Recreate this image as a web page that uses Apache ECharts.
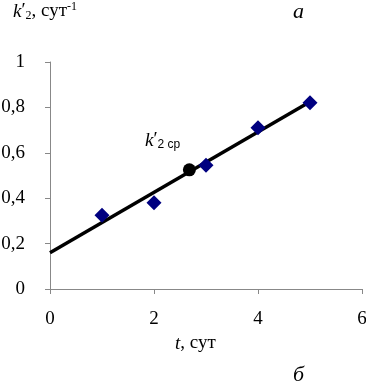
<!DOCTYPE html>
<html>
<head>
<meta charset="utf-8">
<script src="https://cdn.jsdelivr.net/npm/echarts@6/dist/echarts.min.js"></script>
<style>
  html, body { margin: 0; padding: 0; background: #fff; }
  #chart { width: 366px; height: 390px; }
</style>
</head>
<body>
<div id="chart"></div>
<script>
// измеренные значения
var days = [1, 2, 3, 4, 5];
var kValues = [0.325, 0.38, 0.545, 0.71, 0.82];
// среднее значение
var kMean = [2.68, 0.525];
// линия тренда
var trendX = [0, 5];
var trendY = [0.16, 0.825];

var serif = '"Liberation Serif", "DejaVu Serif", serif';

var myChart = echarts.init(document.getElementById('chart'));

var option = {
  animation: false,
  grid: { left: 50, right: 4, top: 62, bottom: 101, outerBoundsMode: 'none', containLabel: false },
  xAxis: {
    type: 'value', min: 0, max: 6, interval: 2,
    axisLine: { lineStyle: { color: '#888', width: 1 } },
    axisTick: { inside: false, length: 5, lineStyle: { color: '#888' } },
    axisLabel: { color: '#000', fontFamily: serif, fontSize: 19, margin: 21 },
    splitLine: { show: false }
  },
  yAxis: {
    type: 'value', min: 0, max: 1, interval: 0.2,
    axisLine: { show: true, lineStyle: { color: '#888', width: 1 } },
    axisTick: { show: true, length: 5, lineStyle: { color: '#888' } },
    axisLabel: {
      color: '#000', fontFamily: serif, fontSize: 19, margin: 25,
      formatter: function (v) { return String(Math.round(v * 10) / 10).replace('.', ','); }
    },
    splitLine: { show: false }
  },
  series: [
    {
      type: 'line',
      data: trendX.map(function (x, i) { return [x, trendY[i]]; }),
      symbol: 'none',
      lineStyle: { color: '#000', width: 3.5 },
      z: 2
    },
    {
      type: 'scatter',
      data: days.map(function (d, i) { return [d, kValues[i]]; }),
      symbol: 'diamond',
      symbolSize: [15, 15],
      itemStyle: { color: '#000080', opacity: 1 },
      z: 3
    },
    {
      type: 'scatter',
      data: [kMean],
      symbol: 'circle',
      symbolSize: 13,
      itemStyle: { color: '#000', opacity: 1 },
      z: 4
    }
  ],
  graphic: [
    {
      type: 'text', left: 13, top: 1,
      style: {
        text: '{i|k}{p|′}{s|2}{n|, сут}{sup|-1}',
        rich: {
          i: { fontFamily: serif, fontStyle: 'italic', fontSize: 19, fill: '#000' },
          p: { fontFamily: serif, fontSize: 19, fill: '#000' },
          s: { fontFamily: serif, fontSize: 12, fill: '#000', padding: [9, 0, 0, 0] },
          n: { fontFamily: serif, fontSize: 19, fill: '#000' },
          sup: { fontFamily: serif, fontSize: 12, fill: '#000', padding: [0, 0, 9, 0] }
        }
      }
    },
    {
      type: 'text', left: 293, top: 1,
      style: { text: 'a', font: 'italic 22px ' + serif, fill: '#000' }
    },
    {
      type: 'text', left: 145, top: 131,
      style: {
        text: '{i|k}{p|′}{s|2 ср}',
        rich: {
          i: { fontFamily: serif, fontStyle: 'italic', fontSize: 19, fill: '#000' },
          p: { fontFamily: serif, fontSize: 19, fill: '#000' },
          s: { fontFamily: '"Liberation Sans", Arial, sans-serif', fontSize: 12, fill: '#000', padding: [9, 0, 0, 0] }
        }
      }
    },
    {
      type: 'text', left: 175, top: 334,
      style: {
        text: '{i|t}{n|, сут}',
        rich: {
          i: { fontFamily: serif, fontStyle: 'italic', fontSize: 19, fill: '#000' },
          n: { fontFamily: serif, fontSize: 19, fill: '#000' }
        }
      }
    },
    {
      type: 'text', left: 293, top: 364,
      style: { text: 'б', font: 'italic 22px ' + serif, fill: '#000' }
    }
  ]
};

myChart.setOption(option);
</script>
</body>
</html>
